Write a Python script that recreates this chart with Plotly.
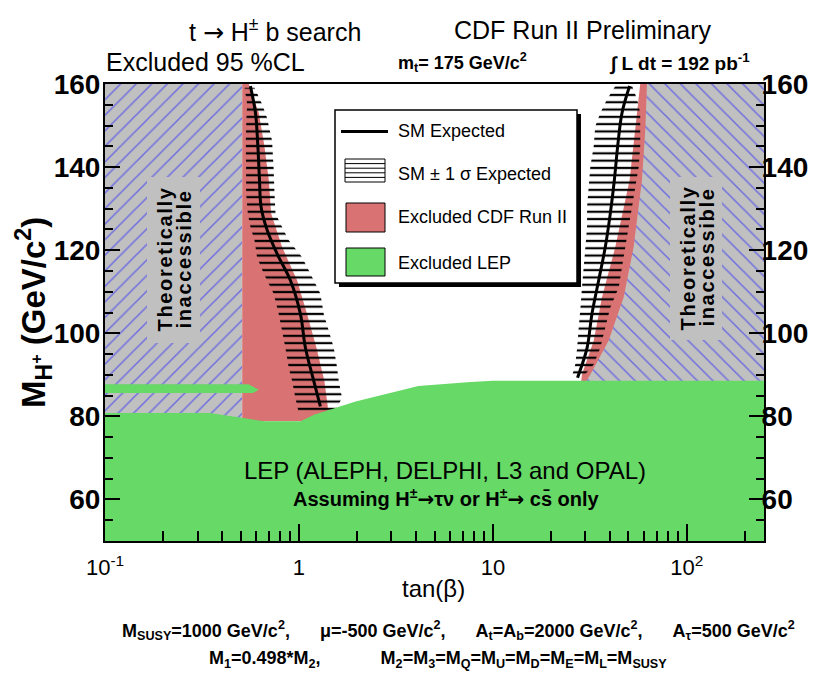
import math
import plotly.graph_objects as go

# ---------------- data ----------------
# Theoretically inaccessible regions (tan(beta), M_H+)
theory_left_tanb = [0.1, 0.51, 0.51, 0.1]
theory_left_m = [50, 50, 160, 160]
theory_right_tanb = [250, 30.3, 31.8, 39.5, 47.2, 53.2, 58.7, 61.1, 62.3, 250]
theory_right_m = [50, 88.5, 90.1, 98.2, 108.6, 120.8, 136.9, 149.0, 160, 160]

# CDF Run II excluded regions
cdf_left_tanb = [0.51, 0.51, 0.551, 0.621, 0.664, 0.699, 0.719, 0.818, 0.979, 1.102, 1.231, 1.353, 1.408, 1.408]
cdf_left_m = [78.8, 160, 160, 153.0, 145.0, 136.9, 128.8, 120.8, 112.7, 104.6, 96.5, 88.5, 82.4, 78.8]
cdf_right_lo_tanb = [28.3, 28.8, 33.1, 36.5, 42.8, 50.7, 57.5]
cdf_right_lo_m = [87.0, 90.1, 98.2, 108.6, 120.8, 136.9, 160]

# SM expected limits
sm_left_tanb = [0.562, 0.597, 0.614, 0.626, 0.638, 0.686, 0.772, 0.904, 1.018, 1.080, 1.193, 1.290]
sm_left_m = [159.5, 153.0, 145.0, 136.9, 130.4, 124.8, 119.1, 112.7, 104.6, 96.5, 88.5, 82.4]
sm_right_tanb = [50.7, 46.3, 44.0, 42.3, 40.3, 38.0, 35.1, 32.4, 30.6, 27.7, 27.3]
sm_right_m = [159.5, 153.0, 145.0, 136.9, 128.8, 120.8, 112.7, 104.6, 96.5, 90.1, 89.3]

# SM +- 1 sigma expected bands
band_left_m = [159.1, 155.1, 151.7, 146.3, 139.3, 133.7, 128.8, 125.6, 122.4, 118.3, 114.3, 109.5, 104.6, 100.6, 96.5, 91.7, 88.5, 84.4, 80.8]
band_left_lo = [0.524, 0.541, 0.536, 0.532, 0.534, 0.534, 0.545, 0.562, 0.590, 0.608, 0.659, 0.741, 0.787, 0.818, 0.851, 0.886, 0.922, 0.959, 0.998]
band_left_hi = [0.590, 0.646, 0.686, 0.727, 0.741, 0.748, 0.757, 0.818, 0.886, 1.038, 1.146, 1.290, 1.343, 1.425, 1.512, 1.573, 1.604, 1.669, 1.512]
band_right_m = [159.5, 156.3, 153.0, 149.8, 145.0, 140.1, 135.3, 130.4, 125.6, 120.8, 115.9, 111.1, 106.2, 101.4, 96.5, 92.5, 89.7]
band_right_lo = [42.8, 38.8, 35.8, 33.7, 33.1, 31.8, 31.2, 30.6, 30.6, 30.0, 29.4, 28.8, 28.3, 27.7, 27.2, 26.6, 25.6]
band_right_hi = [52.2, 55.4, 57.5, 57.5, 57.5, 56.5, 54.3, 52.2, 50.1, 48.2, 46.3, 44.6, 40.3, 38.0, 35.8, 33.1, 29.4]

# LEP excluded region (upper boundary) and thin strip
lep_tanb = [0.1, 0.346, 0.517, 0.662, 1.02, 1.195, 1.96, 4.13, 7.67, 10.0, 250]
lep_m = [80.8, 80.8, 79.6, 78.8, 78.8, 80.4, 83.6, 87.3, 88.3, 88.6, 88.6]
lep_strip_tanb = [0.1, 0.55, 0.62, 0.58, 0.1]
lep_strip_m = [87.7, 87.7, 86.4, 85.6, 85.6]

# axis ticks
x_tickvals = [0.1, 1, 10, 100]
x_ticktext = ["10<sup>-1</sup>", "1", "10", "10<sup>2</sup>"]
x_minor = [0.2, 0.3, 0.4, 0.5, 0.6, 0.7, 0.8, 0.9, 2, 3, 4, 5, 6, 7, 8, 9,
           20, 30, 40, 50, 60, 70, 80, 90, 200]
y_tickvals = [60, 80, 100, 120, 140, 160]

# ---------------- styles ----------------
RED = "#d97272"
GREEN = "#66d966"
GRAY = "#c0c0c0"
HATCH_BLUE = "#1c1cff"
FONT = "Liberation Sans, Arial, sans-serif"
ARROW = '<span style="font-family:DejaVu Sans">\u2192</span>'

W, H = 815, 676
L, R, T, B = 105, 764, 84, 541


def px(x):
    return (x - L) / (R - L)


def py(y):
    return (B - y) / (B - T)


fig = go.Figure()

# Theoretically inaccessible (hatched)
fig.add_trace(go.Scatter(
    x=theory_left_tanb, y=theory_left_m, fill="toself", mode="none",
    fillcolor=GRAY,
    fillpattern=dict(shape="/", fgcolor=HATCH_BLUE, bgcolor=GRAY, size=11, solidity=0.14),
    hoverinfo="skip", showlegend=False))

# Right CDF excluded (drawn under the right hatch)
fig.add_trace(go.Scatter(
    x=cdf_right_lo_tanb + [250, 250], y=cdf_right_lo_m + [160, 87.0],
    fill="toself", mode="none", fillcolor=RED, hoverinfo="skip", showlegend=False))

fig.add_trace(go.Scatter(
    x=theory_right_tanb, y=theory_right_m, fill="toself", mode="none",
    fillcolor=GRAY,
    fillpattern=dict(shape="\\", fgcolor=HATCH_BLUE, bgcolor=GRAY, size=11, solidity=0.14),
    hoverinfo="skip", showlegend=False))

# Left CDF excluded
fig.add_trace(go.Scatter(
    x=cdf_left_tanb, y=cdf_left_m, fill="toself", mode="none",
    fillcolor=RED, hoverinfo="skip", showlegend=False))

# +-1 sigma bands (horizontal line hatch)
for lo, hi, m in [(band_left_lo, band_left_hi, band_left_m),
                  (band_right_lo, band_right_hi, band_right_m)]:
    fig.add_trace(go.Scatter(
        x=lo + hi[::-1], y=m + m[::-1], fill="toself", mode="none",
        fillcolor="rgba(0,0,0,0)",
        fillpattern=dict(shape="-", fgcolor="black", bgcolor="rgba(0,0,0,0)",
                         size=7.3, solidity=0.3, fgopacity=1),
        hoverinfo="skip", showlegend=False))

# SM expected lines
for xs, ys in [(sm_left_tanb, sm_left_m), (sm_right_tanb, sm_right_m)]:
    fig.add_trace(go.Scatter(
        x=xs, y=ys, mode="lines", line=dict(color="black", width=3, shape="spline"),
        hoverinfo="skip", showlegend=False))

# LEP excluded
fig.add_trace(go.Scatter(
    x=lep_tanb + [250, 0.1], y=lep_m + [50, 50], fill="toself", mode="none",
    fillcolor=GREEN, hoverinfo="skip", showlegend=False))
fig.add_trace(go.Scatter(
    x=lep_strip_tanb, y=lep_strip_m, fill="toself", mode="none",
    fillcolor=GREEN, hoverinfo="skip", showlegend=False))

# empty trace so the right-hand axis is drawn
fig.add_trace(go.Scatter(x=[None], y=[None], yaxis="y2", mode="lines",
                         hoverinfo="skip", showlegend=False))

shapes = []
annotations = []


def rect(x0, y0, x1, y1, fill, line_color=None, lw=0):
    shapes.append(dict(type="rect", xref="paper", yref="paper",
                       x0=px(x0), x1=px(x1), y0=py(y1), y1=py(y0),
                       fillcolor=fill, layer="above",
                       line=dict(color=line_color or fill, width=lw)))


def hline(x0, x1, y, width=1, color="black"):
    shapes.append(dict(type="line", xref="paper", yref="paper",
                       x0=px(x0), x1=px(x1), y0=py(y), y1=py(y), layer="above",
                       line=dict(color=color, width=width)))


def text(x, y, s, size, xanchor="center", bold=False, angle=0, color="black"):
    annotations.append(dict(
        x=px(x), y=py(y), xref="paper", yref="paper", text=s, showarrow=False,
        xanchor=xanchor, yanchor="middle", textangle=angle,
        font=dict(family=FONT, size=size, color=color, weight="bold" if bold else "normal")))


# Gray boxes with "Theoretically inaccessible"
hs = "\u200a"
rect(147, 177, 200, 343, GRAY)
rect(670, 177, 722, 340, GRAY)
for cx, cy in [(173.5, 260), (696, 258.5)]:
    text(cx - 9, cy, hs.join("Theoretically"), 20, bold=True, angle=-90)
    text(cx + 10, cy, hs.join("inaccessible"), 20, bold=True, angle=-90)

# Legend
rect(339, 114, 581, 287, "black")
rect(335, 110, 577, 283, "white", "black", 1.5)
hline(341, 388, 131.5, width=3)
rect(345, 159, 385, 182, "white", "black", 1)
for yy in [163.6, 168.2, 172.8, 177.4]:
    hline(345, 385, yy, width=1)
rect(346, 203, 385, 232, RED, "black", 1)
rect(346, 248, 385, 276, GREEN, "black", 1)
text(396, 131, "SM Expected", 18, xanchor="left")
text(396, 174, "SM \u00b1 1 \u03c3 Expected", 18, xanchor="left")
text(396, 217, "Excluded CDF Run II", 18, xanchor="left")
text(396, 263, "Excluded LEP", 18, xanchor="left")

# LEP labels
text(445, 470, "LEP (ALEPH, DELPHI, L3 and OPAL)", 24)
text(446, 498, "Assuming H<sup>\u00b1</sup>" + ARROW + "\u03c4\u03bd or H<sup>\u00b1</sup>" + ARROW +
     " cs\u0304 only", 20, bold=True)

# Titles
text(275, 30, "t " + ARROW + " H<sup>\u00b1</sup> b search", 25)
text(582, 30, "CDF Run II Preliminary", 25)
text(205, 62, "Excluded 95 %CL", 25)
text(463, 62, "m<sub>t</sub>= 175 GeV/c<sup>2</sup>", 18, bold=True)
text(679, 62, "\u222b L dt = 192 pb<sup>-1</sup>", 19, bold=True)

# Axis titles
text(433, 588, "tan(\u03b2)", 24)
text(33, 313, "M<sub>H<sup>+</sup></sub> (GeV/c<sup>2</sup>)", 33, bold=True, angle=-90)

# Bottom parameter lines
sp = "\u00a0" * 6
text(458, 630, "M<sub>SUSY</sub>=1000 GeV/c<sup>2</sup>," + sp + "\u03bc=-500 GeV/c<sup>2</sup>," + sp +
     "A<sub>t</sub>=A<sub>b</sub>=2000 GeV/c<sup>2</sup>," + sp + "A<sub>\u03c4</sub>=500 GeV/c<sup>2</sup>",
     18, bold=True)
text(438, 659, "M<sub>1</sub>=0.498*M<sub>2</sub>," + "\u00a0" * 12 +
     "M<sub>2</sub>=M<sub>3</sub>=M<sub>Q</sub>=M<sub>U</sub>=M<sub>D</sub>=M<sub>E</sub>=M<sub>L</sub>=M<sub>SUSY</sub>",
     18, bold=True)

yaxis_common = dict(
    range=[50, 160], tickvals=y_tickvals, ticks="inside", ticklen=15, tickwidth=1.5,
    tickcolor="black", showgrid=False, zeroline=False, showline=True, linecolor="black",
    linewidth=2, tickfont=dict(family=FONT, size=28, color="black", weight="bold"),
    minor=dict(dtick=5, ticks="inside", ticklen=8, tickwidth=1.5, tickcolor="black", showgrid=False),
    fixedrange=True, automargin=False,
)

fig.update_layout(
    width=W, height=H,
    margin=dict(l=L, r=W - R, t=T, b=H - B, pad=0, autoexpand=False),
    paper_bgcolor="white", plot_bgcolor="white",
    showlegend=False,
    xaxis=dict(
        type="log", range=[-1, math.log10(250)], tickvals=x_tickvals, ticktext=x_ticktext,
        ticks="inside", ticklen=17, tickwidth=1.5, tickcolor="black",
        showgrid=False, zeroline=False, showline=True, mirror=True, linecolor="black", linewidth=2,
        tickfont=dict(family=FONT, size=22, color="black"),
        ticklabelstandoff=6, automargin=False,
        minor=dict(tickvals=x_minor, ticks="inside", ticklen=10, tickwidth=1.5,
                   tickcolor="black", showgrid=False),
        fixedrange=True,
    ),
    yaxis=dict(**yaxis_common, side="left", ticklabelstandoff=-3),
    yaxis2=dict(**yaxis_common, side="right", overlaying="y", anchor="x", ticklabelstandoff=-10),
    shapes=shapes,
    annotations=annotations,
)

fig.write_html("out.html", config={"displayModeBar": False},
               post_script="document.body.style.margin='0';document.body.style.overflow='hidden';")
